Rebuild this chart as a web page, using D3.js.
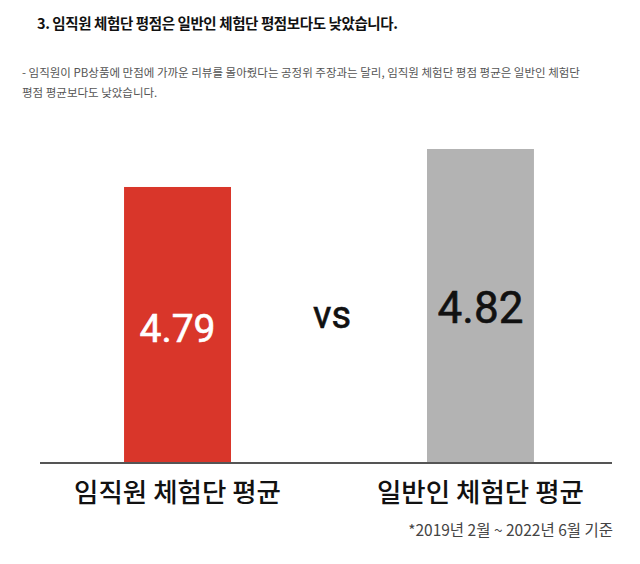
<!DOCTYPE html>
<html><head><meta charset="utf-8">
<script src="https://cdn.jsdelivr.net/npm/d3@7"></script>
<style>
html,body{margin:0;padding:0;background:#fff;}
svg{display:block;}
</style></head>
<body>
<svg id="chart" width="640" height="564"></svg>
<script>
const categories = ["임직원 체험단 평균", "일반인 체험단 평균"];
const values = [4.79, 4.82];
const colors = ["#d9362a", "#b3b3b3"];
const labelColors = ["#ffffff", "#111111"];
const title = "3.  임직원 체험단 평점은 일반인 체험단 평점보다도 낮았습니다.";
const descLines = ["- 임직원이 PB상품에 만점에 가까운 리뷰를 몰아줬다는 공정위 주장과는 달리, 임직원 체험단 평점 평균은 일반인 체험단",
                   "평점 평균보다도 낮았습니다."];
const footnote = "*2019년 2월 ~ 2022년 6월 기준";

const font = "'Noto Sans CJK KR','Noto Sans',sans-serif";
const svg = d3.select("#chart");

svg.append("text").attr("x", 37).attr("y", 29).attr("font-family", font)
  .attr("font-size", 14.5).attr("font-weight", 700).attr("letter-spacing", -0.4)
  .attr("fill", "#111").text(title);

descLines.forEach((t, i) => {
  svg.append("text").attr("x", 22).attr("y", 77 + i * 20).attr("font-family", font)
    .attr("font-size", 11.5).attr("fill", "#555").text(t);
});

const x = d3.scaleBand().domain(categories).range([43, 615]).paddingInner(0.647).paddingOuter(0.2675);
const y = d3.scaleLinear().domain([4.572, 4.82]).range([463, 149]);

svg.selectAll("rect.bar").data(values).join("rect").attr("class", "bar")
  .attr("x", (d, i) => x(categories[i]))
  .attr("width", x.bandwidth())
  .attr("y", d => y(d))
  .attr("height", d => y.range()[0] - y(d))
  .attr("fill", (d, i) => colors[i]);

// baseline axis
const axis = d3.axisBottom(x).tickSize(0).tickPadding(14).tickFormat(() => "");
const gx = svg.append("g").attr("transform", "translate(0,463)").call(axis);
gx.select(".domain").attr("d", "M40,0H612").attr("stroke", "#555").attr("stroke-width", 2);

// category labels
svg.selectAll("text.cat").data(categories).join("text").attr("class", "cat")
  .attr("x", d => x(d) + x.bandwidth() / 2).attr("y", 502)
  .attr("text-anchor", "middle").attr("font-family", font)
  .attr("font-size", 26.5).attr("font-weight", 500).attr("fill", "#111").text(d => d);

// value labels
const labelY = [342, 323];
const labelSize = [39, 44];
svg.selectAll("text.val").data(values).join("text").attr("class", "val")
  .attr("x", (d, i) => x(categories[i]) + x.bandwidth() / 2)
  .attr("y", (d, i) => labelY[i])
  .attr("text-anchor", "middle").attr("font-family", "Roboto,'Noto Sans',sans-serif")
  .attr("font-size", (d, i) => labelSize[i]).attr("font-weight", 400)
  .attr("stroke", (d, i) => labelColors[i]).attr("stroke-width", 0.6)
  .attr("fill", (d, i) => labelColors[i]).text(d => d.toFixed(2));

svg.append("text").attr("x", 332).attr("y", 328).attr("text-anchor", "middle")
  .attr("font-family", "Roboto,'Noto Sans',sans-serif").attr("font-size", 38).attr("font-weight", 400)
  .attr("stroke", "#111").attr("stroke-width", 0.6)
  .attr("fill", "#111").text("vs");

svg.append("text").attr("x", 613).attr("y", 536).attr("text-anchor", "end")
  .attr("font-family", font).attr("font-size", 15.5).attr("fill", "#444").text(footnote);
</script>
</body></html>
